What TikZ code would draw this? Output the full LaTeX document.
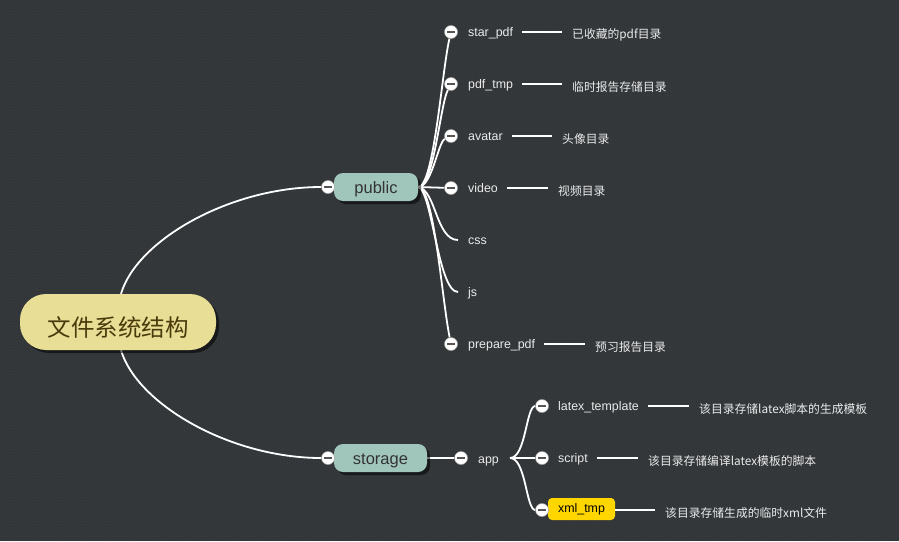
\documentclass[tikz,border=0pt]{standalone}
\usepackage{fontspec}
\setmainfont{Liberation Sans}
\newfontfamily\cjk{Noto Sans CJK SC}
\usetikzlibrary{shadows,backgrounds,patterns}
\definecolor{bgc}{HTML}{34383B}
\definecolor{rootfill}{HTML}{E8DE96}
\definecolor{roottext}{HTML}{4B3A0C}
\definecolor{subfill}{HTML}{A0C6BC}
\definecolor{subtext}{HTML}{333333}
\definecolor{hilite}{HTML}{FFD600}
\definecolor{minusc}{HTML}{555555}
\tikzset{
  rootbox/.style={rounded corners=26pt, fill=rootfill, minimum width=196pt, minimum height=56pt,
    text=roottext, font=\cjk\fontsize{23.5}{26}\selectfont, text height=28pt, text depth=0pt,
    drop shadow={shadow xshift=3pt, shadow yshift=-3pt, fill=black, opacity=0.55}},
  subbox/.style={rounded corners=9pt, fill=subfill, minimum height=28pt, text=subtext,
    font=\fontsize{16.5}{18}\selectfont, text height=13pt, text depth=0pt,
    drop shadow={shadow xshift=3pt, shadow yshift=-3pt, fill=black, opacity=0.55}},
  toggle/.style={circle, fill=white, draw=black!35, line width=0.5pt, minimum size=13pt, inner sep=0pt,
    path picture={\draw[line width=1.5pt, minusc] ([xshift=-3.8pt]path picture bounding box.center) -- ([xshift=3.8pt]path picture bounding box.center);}},
  leaf/.style={anchor=base west, inner sep=0pt, text=white!92!black, font=\fontsize{12.4}{14}\selectfont},
  desc/.style={anchor=west, inner sep=0pt, text=white!92!black, font=\cjk\fontsize{11.8}{13}\selectfont},
  conn/.style={draw=white, line width=1.8pt},
  dline/.style={draw=white, line width=1.8pt, shorten <=9pt, shorten >=10pt},
}
\begin{document}
\begin{tikzpicture}[x=1pt,y=-1pt]
\useasboundingbox (0,0) rectangle (899,541);

% main nodes
\node[rootbox] (root) at (118,322) {文件系统结构};
\node[subbox, minimum width=84pt] (public) at (376,187) {public};
\node[subbox, minimum width=93pt] (storage) at (380.5,458) {storage};
\node[toggle] (c-public) at (328,187) {};
\node[toggle] (c-storage) at (328,458) {};

% public leaves
\node[toggle] (c-star) at (451,32) {};
\node[toggle] (c-pdftmp) at (451,84) {};
\node[toggle] (c-avatar) at (451,136) {};
\node[toggle] (c-video) at (451,188) {};
\node[toggle] (c-prep) at (451,344) {};
\coordinate (e-css) at (458,240);
\coordinate (e-js) at (458,292);

\node[leaf] (l-star) at (468,36) {star\_pdf};
\node[leaf] (l-pdftmp) at (468,88) {pdf\_tmp};
\node[leaf] (l-avatar) at (468,140) {avatar};
\node[leaf] (l-video) at (468,192) {video};
\node[leaf] (l-css) at (468,244) {css};
\node[leaf] (l-js) at (468,296) {js};
\node[leaf] (l-prep) at (468,348) {prepare\_pdf};

\node[desc] (d-star) at (572,34.5) {已收藏的pdf目录};
\node[desc] (d-pdftmp) at (572,87) {临时报告存储目录};
\node[desc] (d-avatar) at (562,139) {头像目录};
\node[desc] (d-video) at (558,191) {视频目录};
\node[desc] (d-prep) at (595,347) {预习报告目录};

% storage leaves
\node[toggle] (c-app) at (461,458) {};
\node[leaf] (l-app) at (478,463) {app};
\coordinate (fork) at (510,458);
\node[fill=hilite, rounded corners=4pt, minimum width=67pt, minimum height=22pt, inner sep=0pt,
  text=black, font=\fontsize{12.4}{14}\selectfont] (l-xml) at (581.5,509) {xml\_tmp};
\node[toggle] (c-latex) at (542,406) {};
\node[toggle] (c-script) at (542,458) {};
\node[toggle] (c-xml) at (542,510) {};
\node[leaf] (l-latex) at (558,410) {latex\_template};
\node[leaf] (l-script) at (558,462) {script};

\node[desc] (d-latex) at (699,409) {该目录存储latex脚本的生成模板};
\node[desc] (d-script) at (648,461) {该目录存储编译latex模板的脚本};
\node[desc] (d-xml) at (665,513) {该目录存储生成的临时xml文件};

\begin{scope}[on background layer]
  \fill[bgc] (0,0) rectangle (899,541);
  \fill[pattern=dots, pattern color=black, opacity=0.18] (0,0) rectangle (899,541);
  % root connectors
  \draw[conn] ([xshift=3pt]root.north) .. controls (137,240) and (230,187) .. (c-public);
  \draw[conn] ([xshift=3pt]root.south) .. controls (137,404) and (230,458) .. (c-storage);
  % public fan
  \draw[conn] (public.east) .. controls (434,187) and (442,70) .. (c-star);
  \draw[conn] (public.east) .. controls (434,187) and (440,105) .. (c-pdftmp);
  \draw[conn] (public.east) .. controls (432,187) and (438,142) .. (c-avatar);
  \draw[conn] (public.east) -- (c-video);
  \draw[conn] (public.east) .. controls (436,190) and (436,240) .. (e-css);
  \draw[conn] (public.east) .. controls (432,190) and (438,292) .. (e-js);
  \draw[conn] (public.east) .. controls (434,187) and (442,300) .. (c-prep);
  % storage
  \draw[conn] (storage.east) -- (c-app);
  \draw[conn] (fork) .. controls (526,458) and (526,406) .. (c-latex);
  \draw[conn] (fork) -- (c-script);
  \draw[conn] (fork) .. controls (526,458) and (526,510) .. (c-xml);
\end{scope}

% description lines
\draw[dline] (l-star.east |- c-star) -- (d-star.west |- c-star);
\draw[dline] (l-pdftmp.east |- c-pdftmp) -- (d-pdftmp.west |- c-pdftmp);
\draw[dline] (l-avatar.east |- c-avatar) -- (d-avatar.west |- c-avatar);
\draw[dline] (l-video.east |- c-video) -- (d-video.west |- c-video);
\draw[dline] (l-prep.east |- c-prep) -- (d-prep.west |- c-prep);
\draw[dline] (l-latex.east |- c-latex) -- (d-latex.west |- c-latex);
\draw[dline] (l-script.east |- c-script) -- (d-script.west |- c-script);
\draw[dline, shorten <=0pt] (l-xml.east |- c-xml) -- (d-xml.west |- c-xml);
\end{tikzpicture}
\end{document}
